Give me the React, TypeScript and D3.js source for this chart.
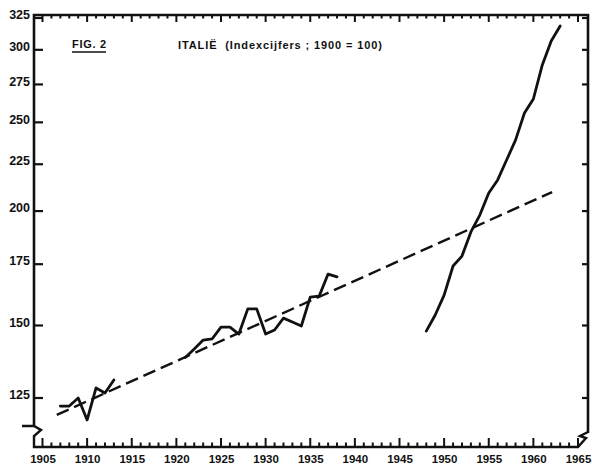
import React from "react";
import * as d3 from "d3";

// Italy index numbers (1900 = 100)
const yearsA = [1907, 1908, 1909, 1910, 1911, 1912, 1913];
const valuesA = [122.5, 122.5, 125.0, 118.3, 128.2, 126.6, 130.8];

const yearsB = [1921, 1922, 1923, 1924, 1925, 1926, 1927, 1928, 1929, 1930, 1931, 1932, 1933, 1934, 1935, 1936, 1937, 1938];
const valuesB = [138.4, 141.4, 144.6, 145.0, 149.4, 149.4, 146.8, 156.4, 156.4, 146.8, 148.3, 152.8, 151.3, 149.8, 161.1, 161.5, 170.7, 169.5];

const yearsC = [1948, 1949, 1950, 1951, 1952, 1953, 1954, 1955, 1956, 1957, 1958, 1959, 1960, 1961, 1962, 1963];
const valuesC = [147.9, 154.0, 161.9, 174.2, 178.6, 189.8, 198.0, 209.3, 216.3, 227.4, 239.1, 255.9, 265.1, 288.8, 306.7, 318.5];

const trendYears = [1906.6, 1962.1];
const trendValues = [119.8, 209.8];

const yTicks = [125, 150, 175, 200, 225, 250, 275, 300, 325];
const xLabels = [1905, 1910, 1915, 1920, 1925, 1930, 1935, 1940, 1945, 1950, 1955, 1960, 1965];
const figLabel = "FIG. 2";
const titleText = "ITALIË  (Indexcijfers ; 1900 = 100)";

const W = 592;
const H = 466;
const LEFT = 34;
const RIGHT = 588;
const TOP = 15;
const BASE = 447;
const INK = "#111";
const FONT = "'Liberation Sans', Arial, sans-serif";

export default function App() {
  const x = d3.scaleLinear().domain([1905, 1965]).range([42.5, 578]);
  const y = d3.scaleLog().domain([125, 325]).range([398, 18]);

  const line = d3
    .line<[number, number]>()
    .x((d) => x(d[0]))
    .y((d) => y(d[1]))
    .curve(d3.curveLinear);

  const zip = (a: number[], b: number[]) => a.map((v, i) => [v, b[i]] as [number, number]);

  const allYears = d3.range(1905, 1966);

  return (
    <div style={{ position: "absolute", left: 0, top: 0 }}>
      <svg width={W} height={H} style={{ display: "block", background: "#fff" }}>
        {/* frame */}
        <path
          d={`M${LEFT},426 L${LEFT},${TOP} L${RIGHT},${TOP} L${RIGHT},433`}
          fill="none"
          stroke={INK}
          strokeWidth={2.6}
        />
        {/* breaks and baseline */}
        <path
          d={`M22,426 L${LEFT},426 L41,430 L${LEFT},436 L${LEFT},${BASE} L578,${BASE} L586,438 L580,436 L${RIGHT},432`}
          fill="none"
          stroke={INK}
          strokeWidth={2.4}
          strokeLinejoin="miter"
        />
        {/* top ticks */}
        {allYears.map((yr) => (
          <line
            key={"t" + yr}
            x1={x(yr)}
            x2={x(yr)}
            y1={TOP}
            y2={TOP + (yr % 5 === 0 ? 7 : 3.5)}
            stroke={INK}
            strokeWidth={2}
          />
        ))}
        {/* bottom ticks */}
        {allYears.map((yr) => (
          <line
            key={"b" + yr}
            x1={x(yr)}
            x2={x(yr)}
            y1={BASE}
            y2={BASE - (yr % 5 === 0 ? 9 : 4.5)}
            stroke={INK}
            strokeWidth={2}
          />
        ))}
        {/* y ticks left & right */}
        {yTicks.map((v) => (
          <g key={"y" + v}>
            <line x1={LEFT} x2={LEFT + 9} y1={y(v)} y2={y(v)} stroke={INK} strokeWidth={2.2} />
            <line x1={RIGHT} x2={RIGHT - 6} y1={y(v)} y2={y(v)} stroke={INK} strokeWidth={2.2} />
            <text
              x={30}
              y={y(v)}
              dy="0.1em"
              textAnchor="end"
              fontFamily={FONT}
              fontWeight="bold"
              fontSize={12.5}
              fill={INK}
            >
              {v}
            </text>
          </g>
        ))}
        {/* x labels */}
        {xLabels.map((yr) => (
          <text
            key={"xl" + yr}
            x={x(yr) + 0.5}
            y={463}
            textAnchor="middle"
            fontFamily={FONT}
            fontWeight="bold"
            fontSize={11.5}
            fill={INK}
          >
            {yr}
          </text>
        ))}
        {/* titles */}
        <text x={72} y={48} fontFamily={FONT} fontWeight="bold" fontSize={11} fill={INK} textLength={34}>
          {figLabel}
        </text>
        <line x1={72} x2={106} y1={52} y2={52} stroke={INK} strokeWidth={1.6} />
        <text x={178} y={49} fontFamily={FONT} fontWeight="bold" fontSize={11} fill={INK} textLength={204} xmlSpace="preserve">
          {titleText}
        </text>
        {/* trend */}
        <path
          d={line(zip(trendYears, trendValues)) || ""}
          fill="none"
          stroke={INK}
          strokeWidth={2.4}
          strokeDasharray="13,6"
        />
        {/* series */}
        {[zip(yearsA, valuesA), zip(yearsB, valuesB), zip(yearsC, valuesC)].map((s, i) => (
          <path
            key={"s" + i}
            d={line(s) || ""}
            fill="none"
            stroke={INK}
            strokeWidth={2.8}
            strokeLinejoin="round"
            strokeLinecap="round"
          />
        ))}
      </svg>
    </div>
  );
}
